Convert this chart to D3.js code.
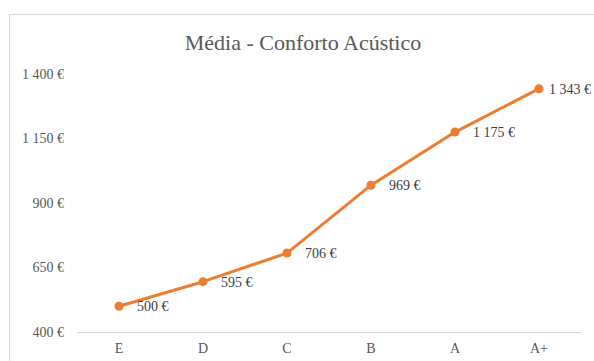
<!DOCTYPE html>
<html>
<head>
<meta charset="utf-8">
<script src="https://cdn.jsdelivr.net/npm/d3@7"></script>
<style>
  html, body { margin: 0; padding: 0; background: #fff; }
  svg { display: block; font-family: "Liberation Serif", "Times New Roman", serif; }
</style>
</head>
<body>
<svg id="chart" width="594" height="361"></svg>
<script>
// Energy classes and average cost (€)
const categories = ["E", "D", "C", "B", "A", "A+"];
const values = [500, 595, 706, 969, 1175, 1343];
const yTicks = [400, 650, 900, 1150, 1400];
const title = "Média - Conforto Acústico";

const svg = d3.select("#chart");
const W = 594, H = 361;
const margin = { left: 77, right: 13, top: 74, bottom: 29 };

// chart frame
svg.append("rect")
  .attr("x", 9.5).attr("y", 14.5)
  .attr("width", 600).attr("height", 360)
  .attr("fill", "#fff").attr("stroke", "#d9d9d9").attr("stroke-width", 1);

const x = d3.scaleBand().domain(categories).range([margin.left, W - margin.right]);
const y = d3.scaleLinear().domain([400, 1400]).range([H - margin.bottom, margin.top]);

const loc = d3.formatLocale({ decimal: ",", thousands: " ", grouping: [3], currency: ["", " €"] });
const fmt = v => loc.format(",.0f")(v) + " €";

// title
svg.append("text")
  .attr("x", 303).attr("y", 50)
  .attr("text-anchor", "middle")
  .attr("font-size", 22).attr("fill", "#595959")
  .text(title);

// y axis (labels only)
const yAxis = d3.axisLeft(y).tickValues(yTicks).tickSize(0).tickPadding(13).tickFormat(fmt);
const gy = svg.append("g").attr("transform", `translate(${margin.left},0)`).call(yAxis);
gy.select(".domain").remove();
gy.selectAll("text").attr("font-size", 14).attr("fill", "#595959")
  .attr("font-family", "Liberation Serif, serif");

// x axis
const xAxis = d3.axisBottom(x).tickSize(0).tickPadding(11);
const gx = svg.append("g").attr("transform", `translate(0,${y(400)})`).call(xAxis);
gx.select(".domain").attr("stroke", "#d9d9d9").attr("stroke-width", 1);
gx.selectAll("text").attr("font-size", 14).attr("fill", "#595959")
  .attr("font-family", "Liberation Serif, serif");

const cx = d => x(d) + x.bandwidth() / 2;

// series line
const line = d3.line().x((d, i) => cx(categories[i])).y(d => y(d));
svg.append("path").datum(values)
  .attr("d", line)
  .attr("fill", "none").attr("stroke", "#ED7D31")
  .attr("stroke-width", 3).attr("stroke-linejoin", "round").attr("stroke-linecap", "round");

// markers
svg.selectAll("circle.pt").data(values).join("circle")
  .attr("class", "pt")
  .attr("cx", (d, i) => cx(categories[i]))
  .attr("cy", d => y(d))
  .attr("r", 4.5)
  .attr("fill", "#ED7D31");

// data labels, to the right of each point, kept inside the frame
const labels = svg.selectAll("text.lbl").data(values).join("text")
  .attr("class", "lbl")
  .attr("y", d => y(d))
  .attr("dy", "0.35em")
  .attr("font-size", 14).attr("fill", "#404040")
  .text(d => fmt(d));
labels.attr("x", function (d, i) {
  const w = this.getComputedTextLength();
  return Math.min(cx(categories[i]) + 18, W - 3 - w);
});
</script>
</body>
</html>
